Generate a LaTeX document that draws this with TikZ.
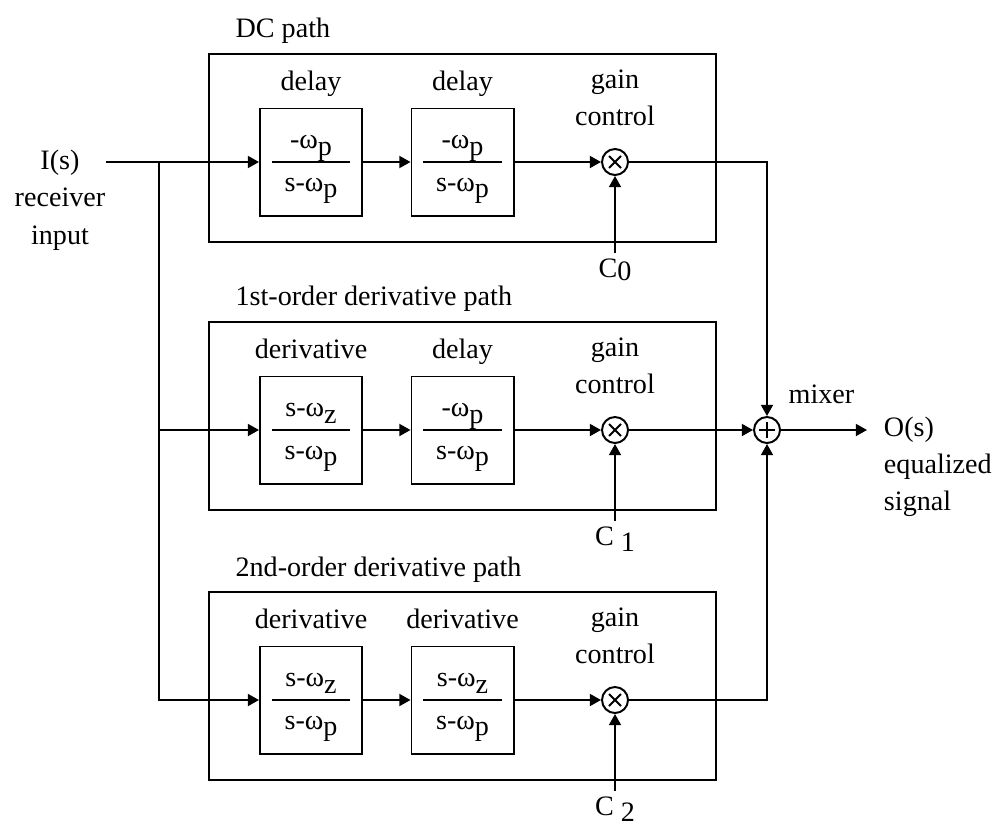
\documentclass[tikz,border=0pt]{standalone}
\usepackage{fontspec}
\setmainfont{Liberation Serif}
\usetikzlibrary{arrows.meta,positioning}

\setlength{\arrayrulewidth}{1.4pt}
\newcommand{\sbs}[1]{\raisebox{-0.22em}{#1}}
\newcommand{\blkfrac}[2]{{\renewcommand{\arraystretch}{1.08}%
  \begin{tabular}{@{}c@{}}\makebox[1.95cm]{#1}\\\hline\makebox[1.95cm]{#2}\end{tabular}}}
\newcommand{\fdly}{\blkfrac{-ω\sbs{p}}{s-ω\sbs{p}}}
\newcommand{\fdrv}{\blkfrac{s-ω\sbs{z}}{s-ω\sbs{p}}}

\tikzset{
  tri/.tip={Triangle[length=0.28cm,width=0.3cm]},
  blk/.style={draw, minimum width=2.55cm, minimum height=2.675cm, inner sep=0},
  pathbox/.style={draw, minimum width=12.675cm, minimum height=4.7cm, inner sep=0},
  mult/.style={draw, circle, minimum size=0.65cm, inner sep=0,
    path picture={\draw ([shift={(-6,-6)}]path picture bounding box.center) -- ([shift={(6,6)}]path picture bounding box.center)
      ([shift={(-6,6)}]path picture bounding box.center) -- ([shift={(6,-6)}]path picture bounding box.center);}},
  adder/.style={draw, circle, minimum size=0.65cm, inner sep=0,
    path picture={\draw ([shift={(-8,0)}]path picture bounding box.center) -- ([shift={(8,0)}]path picture bounding box.center)
      ([shift={(0,-8)}]path picture bounding box.center) -- ([shift={(0,8)}]path picture bounding box.center);}},
}

\begin{document}
\begin{tikzpicture}[x=0.025cm,y=-0.025cm,line width=1.4pt,font=\fontsize{20}{26.5}\selectfont]
\useasboundingbox (0,0) rectangle (1004,829);

% input
\node[align=center, inner sep=0] (inp) at (60,200) {I(s)\\receiver\\input};
\coordinate (br) at (159,162);

% the three paths
\foreach \r/\y/\ttl/\la/\lb/\fa/\fb/\cc in {
  0/162/DC path/delay/delay/\fdly/\fdly/C\raisebox{-.1em}{0},
  1/430/1st-order derivative path/derivative/delay/\fdrv/\fdly/C \raisebox{-.22em}{1},
  2/700/2nd-order derivative path/derivative/derivative/\fdrv/\fdrv/C \raisebox{-.22em}{2}}{
  \node[pathbox] (p\r) at (462.5,\y-14) {};
  \node[anchor=base west] at ([shift={(22,-15)}]p\r.north west) {\ttl};
  \node[blk] (a\r) at (311,\y) {\fa};
  \node[blk] (b\r) at (462.5,\y) {\fb};
  \node[above=0.425cm of a\r, anchor=base] {\la};
  \node[above=0.425cm of b\r, anchor=base] {\lb};
  \node[mult] (m\r) at (615,\y) {};
  \node[align=center, inner sep=0, above=0.525cm of m\r] {gain\\control};
  \node[anchor=north, inner sep=0] (c\r) at (615,\y+96) {\cc};
  \draw[-tri] ([yshift=0.12cm]c\r.north -| m\r) -- (m\r);
  \draw[-tri] (a\r) -- (b\r);
  \draw[-tri] (b\r) -- (m\r);
}

\draw[-tri] (inp.east |- a0) -- (a0);
\draw[-tri] (br |- a1) -- (a1);
\draw[-tri] (br) |- (a2);

% mixer
\node[adder] (mix) at (767,430) {};
\node[anchor=base west] at ([shift={(16,-27)}]mix.center) {mixer};
\draw[-tri] (m0) -| (mix);
\draw[-tri] (m1) -- (mix);
\draw[-tri] (m2) -| (mix);
\coordinate (out) at (867,430);
\draw[-tri] (mix) -- (out);
\node[align=left, anchor=west, inner sep=0] (sig) at (883,467) {O(s)\\equalized\\signal};
\end{tikzpicture}
\end{document}
